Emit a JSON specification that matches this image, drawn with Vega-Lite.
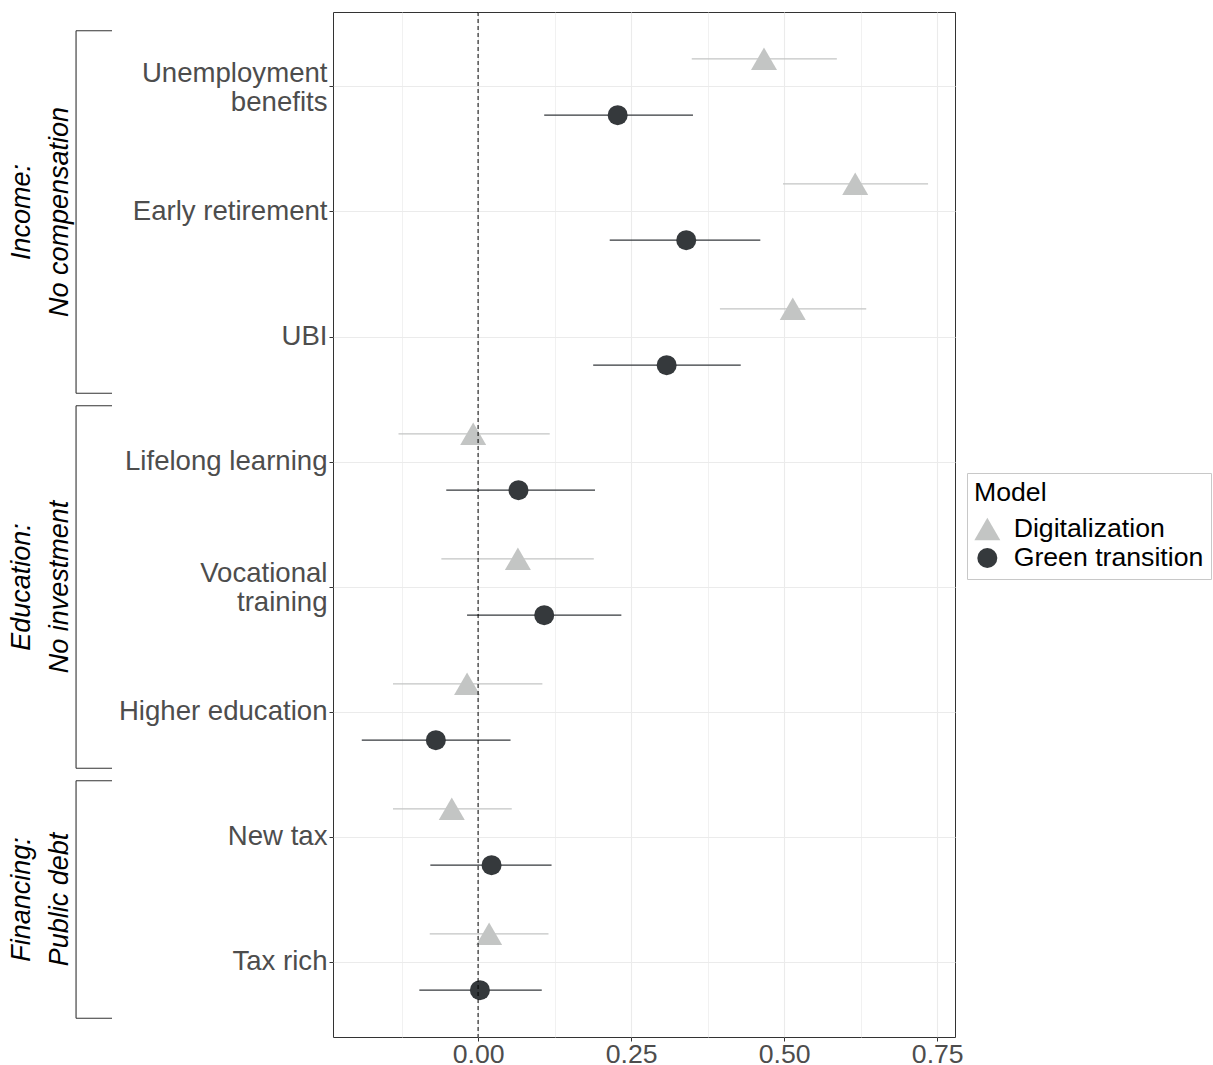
{
  "$schema": "https://vega.github.io/schema/vega-lite/v6.json",
  "padding": {"left": 0, "top": 11, "right": 0, "bottom": 0},
  "bounds": "flush",
  "spacing": 221,
  "config": {
    "font": "Liberation Sans",
    "view": {"stroke": "#333333", "strokeWidth": 1},
    "legend": {
      "orient": "none",
      "legendX": 967,
      "legendY": 461,
      "titleFontSize": 26.67,
      "titleFontWeight": "normal",
      "titleColor": "#000000",
      "titleFont": "Liberation Sans",
      "labelFontSize": 26.67,
      "labelColor": "#000000",
      "labelFont": "Liberation Sans",
      "labelLimit": 400,
      "strokeColor": "#C8C8C8",
      "fillColor": "#FFFFFF",
      "padding": 7,
      "rowPadding": 1,
      "labelOffset": 13,
      "titlePadding": 9,
      "symbolOpacity": 1,
      "symbolStrokeWidth": 0
    }
  },
  "datasets": {
    "coefs": [
      {"term": "Unemployment benefits", "model": "Digitalization", "est": 0.467, "lo": 0.349, "hi": 0.586},
      {"term": "Unemployment benefits", "model": "Green transition", "est": 0.228, "lo": 0.108, "hi": 0.351},
      {"term": "Early retirement", "model": "Digitalization", "est": 0.616, "lo": 0.498, "hi": 0.735},
      {"term": "Early retirement", "model": "Green transition", "est": 0.340, "lo": 0.215, "hi": 0.461},
      {"term": "UBI", "model": "Digitalization", "est": 0.514, "lo": 0.395, "hi": 0.634},
      {"term": "UBI", "model": "Green transition", "est": 0.308, "lo": 0.188, "hi": 0.429},
      {"term": "Lifelong learning", "model": "Digitalization", "est": -0.008, "lo": -0.130, "hi": 0.117},
      {"term": "Lifelong learning", "model": "Green transition", "est": 0.066, "lo": -0.052, "hi": 0.191},
      {"term": "Vocational training", "model": "Digitalization", "est": 0.065, "lo": -0.060, "hi": 0.189},
      {"term": "Vocational training", "model": "Green transition", "est": 0.108, "lo": -0.018, "hi": 0.234},
      {"term": "Higher education", "model": "Digitalization", "est": -0.018, "lo": -0.139, "hi": 0.105},
      {"term": "Higher education", "model": "Green transition", "est": -0.069, "lo": -0.190, "hi": 0.053},
      {"term": "New tax", "model": "Digitalization", "est": -0.043, "lo": -0.139, "hi": 0.055},
      {"term": "New tax", "model": "Green transition", "est": 0.022, "lo": -0.078, "hi": 0.120},
      {"term": "Tax rich", "model": "Digitalization", "est": 0.018, "lo": -0.079, "hi": 0.115},
      {"term": "Tax rich", "model": "Green transition", "est": 0.003, "lo": -0.096, "hi": 0.104}
    ],
    "groups": [
      {"group": "Income", "label": "Income:\nNo compensation", "first": "Unemployment benefits", "mid": "Early retirement", "last": "UBI"},
      {"group": "Education", "label": "Education:\nNo investment", "first": "Lifelong learning", "mid": "Vocational training", "last": "Higher education"},
      {"group": "Financing", "label": "Financing:\nPublic debt", "first": "New tax", "mid": "Tax rich", "last": "Tax rich"}
    ]
  },
  "hconcat": [
    {
      "width": 112,
      "height": 1025,
      "view": {"stroke": null},
      "data": {"name": "groups"},
      "layer": [
        {
          "mark": {"type": "rule", "color": "#333333", "strokeWidth": 1.1},
          "encoding": {
            "x": {"datum": 0.679, "type": "quantitative", "scale": {"domain": [0, 1]}, "axis": null},
            "y": {"field": "first", "type": "nominal", "bandPosition": 0.05, "axis": null,
                  "scale": {"domain": ["Unemployment benefits", "Early retirement", "UBI", "Lifelong learning", "Vocational training", "Higher education", "New tax", "Tax rich"], "paddingInner": 0, "paddingOuter": 0.1}},
            "y2": {"field": "last", "bandPosition": 0.95}
          }
        },
        {
          "mark": {"type": "rule", "color": "#333333", "strokeWidth": 1.1},
          "encoding": {
            "x": {"datum": 0.679, "type": "quantitative"},
            "x2": {"datum": 1},
            "y": {"field": "first", "type": "nominal", "bandPosition": 0.05}
          }
        },
        {
          "mark": {"type": "rule", "color": "#333333", "strokeWidth": 1.1},
          "encoding": {
            "x": {"datum": 0.679, "type": "quantitative"},
            "x2": {"datum": 1},
            "y": {"field": "last", "type": "nominal", "bandPosition": 0.95}
          }
        },
        {
          "transform": [{"filter": "datum.group != 'Financing'"}],
          "mark": {"type": "text", "angle": 270, "fontStyle": "italic", "fontSize": 27, "lineHeight": 38, "lineBreak": "\n", "align": "center", "baseline": "middle", "color": "#000000"},
          "encoding": {
            "x": {"datum": 0.192, "type": "quantitative"},
            "y": {"field": "mid", "type": "nominal", "bandPosition": 0.5},
            "text": {"field": "label"}
          }
        },
        {
          "transform": [{"filter": "datum.group == 'Financing'"}],
          "mark": {"type": "text", "angle": 270, "fontStyle": "italic", "fontSize": 27, "lineHeight": 38, "lineBreak": "\n", "align": "center", "baseline": "middle", "color": "#000000"},
          "encoding": {
            "x": {"datum": 0.192, "type": "quantitative"},
            "y": {"field": "mid", "type": "nominal", "bandPosition": 0},
            "text": {"field": "label"}
          }
        }
      ]
    },
    {
      "width": 622,
      "height": 1025,
      "data": {"name": "coefs"},
      "layer": [
        {
          "mark": {"type": "rule", "strokeWidth": 1.1},
          "encoding": {
            "x": {"field": "lo", "type": "quantitative",
                  "scale": {"domain": [-0.237, 0.779], "nice": false, "zero": false},
                  "axis": {
                    "values": [-0.125, 0, 0.125, 0.25, 0.375, 0.5, 0.625, 0.75],
                    "labelExpr": "abs(datum.value % 0.25) > 0.01 ? '' : format(datum.value, '.2f')",
                    "title": null,
                    "grid": true,
                    "gridColor": "#EBEBEB",
                    "gridWidth": {"condition": {"test": "abs(datum.value % 0.25) > 0.01", "value": 0.7}, "value": 1.1},
                    "tickOpacity": {"condition": {"test": "abs(datum.value % 0.25) > 0.01", "value": 0}, "value": 1},
                    "tickColor": "#333333",
                    "tickSize": 4,
                    "tickWidth": 1,
                    "domain": false,
                    "labelFontSize": 26.67,
                    "labelColor": "#4D4D4D",
                    "labelPadding": 0,
                    "labelFlush": false,
                    "labelOverlap": false
                  }},
            "x2": {"field": "hi"},
            "y": {"field": "term", "type": "nominal",
                  "scale": {"domain": ["Unemployment benefits", "Early retirement", "UBI", "Lifelong learning", "Vocational training", "Higher education", "New tax", "Tax rich"], "paddingInner": 0, "paddingOuter": 0.1},
                  "axis": {
                    "title": null,
                    "bandPosition": 0.5,
                    "grid": true,
                    "gridColor": "#EBEBEB",
                    "gridWidth": 1.1,
                    "tickColor": "#333333",
                    "tickSize": 4,
                    "tickWidth": 1,
                    "domain": false,
                    "labelFontSize": 27.6,
                    "labelColor": "#4D4D4D",
                    "labelPadding": 2,
                    "labelLimit": 400,
                    "labelLineHeight": 29,
                    "labelBaseline": "middle",
                    "labelOffset": {"condition": {"test": "datum.value == 'Unemployment benefits' || datum.value == 'Vocational training'", "value": -13.5}, "value": 0},
                    "labelExpr": "datum.value == 'Unemployment benefits' ? ['Unemployment', 'benefits'] : datum.value == 'Vocational training' ? ['Vocational', 'training'] : datum.value"
                  }},
            "yOffset": {"field": "model", "type": "nominal",
                        "scale": {"domain": ["Digitalization", "Green transition"], "paddingInner": 0, "paddingOuter": 0.11}},
            "color": {"field": "model", "type": "nominal",
                      "scale": {"domain": ["Digitalization", "Green transition"], "range": ["#C3C5C4", "#35393C"]}}
          }
        },
        {
          "mark": {"type": "point", "filled": true, "opacity": 1, "strokeWidth": 0},
          "encoding": {
            "x": {"field": "est", "type": "quantitative"},
            "y": {"field": "term", "type": "nominal"},
            "yOffset": {"field": "model", "type": "nominal"},
            "color": {"field": "model", "type": "nominal", "title": "Model"},
            "shape": {"field": "model", "type": "nominal", "title": "Model",
                      "scale": {"domain": ["Digitalization", "Green transition"], "range": ["triangle-up", "circle"]}},
            "size": {"field": "model", "type": "ordinal", "title": "Model",
                     "scale": {"domain": ["Digitalization", "Green transition"], "range": [676, 400]}}
          }
        },
        {
          "data": {"values": [{"ref": 0}]},
          "mark": {"type": "rule", "color": "#000000", "strokeWidth": 1, "strokeDash": [4, 3]},
          "encoding": {
            "x": {"field": "ref", "type": "quantitative"}
          }
        }
      ]
    }
  ]
}
